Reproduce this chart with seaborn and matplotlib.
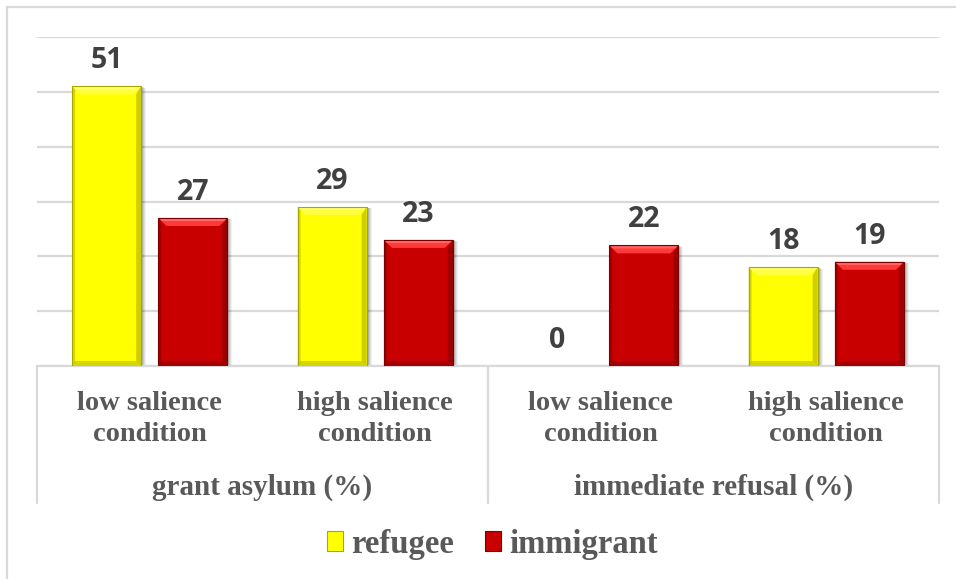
import numpy as np
import pandas as pd
import matplotlib
matplotlib.use("Agg")
import matplotlib.pyplot as plt
import matplotlib.transforms as mtransforms
from matplotlib.patches import Polygon, Rectangle, Patch
from matplotlib.lines import Line2D
import seaborn as sns

# ---- data -------------------------------------------------------------
measures = ["grant asylum (%)", "immediate refusal (%)"]
conditions = ["low salience\ncondition", "high salience\ncondition"]
groups = ["refugee", "immigrant"]
refugee = [51, 29, 0, 18]
immigrant = [27, 23, 22, 19]

cells = [f"{m} | {c}" for m in measures for c in conditions]
df = pd.DataFrame({
    "cell": cells * 2,
    "group": [groups[0]] * len(cells) + [groups[1]] * len(cells),
    "value": refugee + immigrant,
})

face = {"refugee": "#FFFF00", "immigrant": "#C80000"}
light = {"refugee": "#FFFF40", "immigrant": "#FF3A3A"}
dark = {"refugee": "#A8A800", "immigrant": "#7A0000"}
grid_col = "#D9D9D9"
text_col = "#595959"
label_col = "#404040"

# ---- figure -----------------------------------------------------------
sns.set_theme(style="white")
plt.rcParams["font.family"] = ["DejaVu Sans"]

W, H = 956, 579
fig = plt.figure(figsize=(W / 100, H / 100), dpi=100)
ax_left, ax_right, ax_top, ax_bottom = 37, 939, 37, 366
ax = fig.add_axes([ax_left / W, (H - ax_bottom) / H,
                   (ax_right - ax_left) / W, (ax_bottom - ax_top) / H])

sns.barplot(data=df, x="cell", y="value", hue="group", order=cells,
            hue_order=groups, palette=face, saturation=1, width=0.765,
            gap=0.2, legend=False, linewidth=0, ax=ax, zorder=3)

ax.set_xlim(-0.5, len(cells) - 0.5)
ax.set_ylim(0, 60)
ax.set_yticks(np.arange(0, 61, 10))
ax.yaxis.grid(True, color=grid_col, lw=1.6)
ax.set_axisbelow(True)
ax.tick_params(axis="y", left=False, labelleft=False)
for side in ["left", "right", "top"]:
    ax.spines[side].set_visible(False)
ax.spines["bottom"].set_color(grid_col)
ax.spines["bottom"].set_linewidth(1.6)
ax.set_xlabel("")
ax.set_ylabel("")

serif = dict(family="Liberation Serif", weight="bold", color=text_col)
ax.set_xticks(range(len(cells)))
ax.set_xticklabels(conditions * len(measures), fontsize=20.5,
                   linespacing=1.3, **serif)
ax.tick_params(axis="x", length=0, pad=18)

# measure labels under each pair of conditions
blend = mtransforms.blended_transform_factory(ax.transData, fig.transFigure)
for i, m in enumerate(measures):
    ax.text(2 * i + 0.5, (H - 495) / H, m, transform=blend, ha="center",
            va="baseline", fontsize=21, clip_on=False, **serif)

# category separators of the two-level axis
for xv in [-0.5, 1.5, 3.5]:
    ax.add_line(Line2D([xv, xv], [(H - ax_bottom) / H, (H - 503) / H],
                       transform=blend, color=grid_col, lw=1.6,
                       clip_on=False))

# chart-area frame
fig.add_artist(Rectangle((7 / W, -0.1), 1.2, (H - 7) / H + 0.1,
                         transform=fig.transFigure, fill=False,
                         ec=grid_col, lw=1.6))

# ---- bevel and shadow on each bar --------------------------------------
to_disp = ax.transData
to_data = ax.transData.inverted()


def poly(points_px, **kw):
    pts = to_data.transform(np.array(points_px))
    ax.add_patch(Polygon(pts, closed=True, lw=0, **kw))


for group, container in zip(groups, ax.containers):
    for rect in container:
        h = rect.get_height()
        if h <= 0:
            continue
        x, w = rect.get_x(), rect.get_width()
        (X0, Y0), (X1, Y1) = to_disp.transform([(x, 0), (x + w, h)])
        # soft drop shadow
        for k, a in zip([5, 4, 3, 2], [0.05, 0.07, 0.09, 0.12]):
            poly([(X0 + k, Y0 - k * 0.4), (X1 + k, Y0 - k * 0.4),
                  (X1 + k, Y1 - k * 0.3), (X0 + k, Y1 - k * 0.3)],
                 facecolor="black", alpha=a, zorder=2.5)
        b = 8
        # top bevel (highlight)
        poly([(X0, Y1), (X1, Y1), (X1 - b, Y1 - b), (X0 + b, Y1 - b)],
             facecolor=light[group], zorder=4)
        poly([(X0 + 1, Y1 - 1), (X1 - 1, Y1 - 1), (X1 - 3, Y1 - 3),
              (X0 + 3, Y1 - 3)], facecolor="white", alpha=0.25, zorder=4.1)
        # right bevel (shade)
        poly([(X1, Y1), (X1, Y0), (X1 - 5, Y0 + 5), (X1 - 5, Y1 - b)],
             facecolor=dark[group], alpha=0.55, zorder=4)
        # bottom bevel (shade)
        poly([(X0, Y0), (X1, Y0), (X1 - 5, Y0 + 5), (X0 + 3, Y0 + 5)],
             facecolor=dark[group], alpha=0.45, zorder=4)
        # left edge
        poly([(X0, Y0), (X0, Y1), (X0 + 3, Y1 - 3), (X0 + 3, Y0 + 3)],
             facecolor=dark[group], alpha=0.45, zorder=4)
        # thin outline
        ax.add_patch(Rectangle((x, 0), w, h, fill=False, ec=dark[group],
                               lw=0.8, zorder=4.2))

# ---- value labels -----------------------------------------------------
for container in ax.containers:
    ax.bar_label(container, fmt="%d", padding=8, fontsize=20.5,
                 fontweight="bold", color=label_col,
                 fontfamily="Open Sans")

# ---- legend -----------------------------------------------------------
handles = [Patch(facecolor=face[g], edgecolor=dark[g], lw=0.8) for g in groups]
fig.legend(handles, groups, loc="center",
           bbox_to_anchor=(492.5 / W, (H - 544) / H), ncol=2, frameon=False,
           prop=dict(family="Liberation Serif", weight="bold", size=23.5),
           labelcolor=text_col, handlelength=0.5, handleheight=0.53,
           handletextpad=0.25, columnspacing=0.95)

fig.savefig("out.png", dpi=100, facecolor="white")
